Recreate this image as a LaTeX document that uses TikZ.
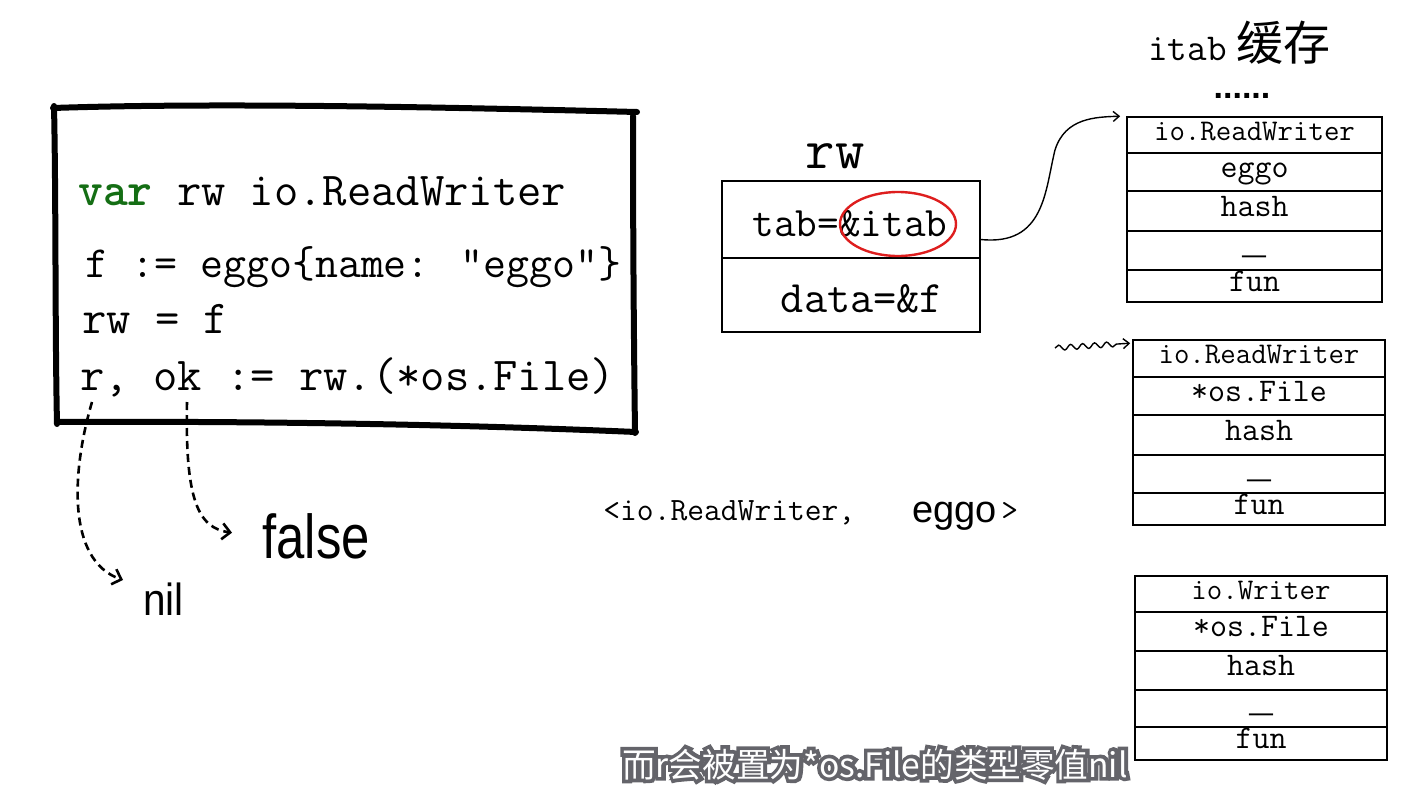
\documentclass[tikz,border=0pt]{standalone}
\usepackage{fontspec}
\setmainfont{Liberation Serif}
\newfontfamily\cjk{Noto Sans CJK SC}
\newfontfamily\cjkout{Noto Sans CJK SC}[FakeBold=22]
\newfontfamily\hand{Liberation Sans}
\newfontfamily\lmono{Liberation Mono}
\usetikzlibrary{decorations.pathmorphing,arrows.meta,shapes.geometric}
\definecolor{codegreen}{RGB}{20,110,20}
\definecolor{ringred}{RGB}{222,30,30}
\definecolor{subgray}{RGB}{100,100,106}
\tikzset{
  codeline/.style={anchor=base west, inner sep=0pt, font=\ttfamily\fontsize{23.6}{26}\selectfont},
  boxline/.style={line width=3pt, line cap=round, line join=round},
  cell/.style={draw, line width=0.8pt, inner sep=0pt, minimum width=127.5pt,
     text height=0.7em, text depth=0.2em, font=\ttfamily\fontsize{16.5}{19}\selectfont},
  cellhead/.style={cell, font=\ttfamily\fontsize{15}{18}\selectfont},
  cellgap/.style={cell, font=\lmono\fontsize{20}{22}\selectfont, text height=0.55em, text depth=0.25em},
  rwcell/.style={draw, line width=0.8pt, inner sep=0pt, minimum width=129pt},
  dasharrow/.style={line width=1.3pt, dash pattern=on 4pt off 2.5pt, -{Straight Barb[length=4pt,width=8pt]}},
  thinarrow/.style={line width=0.7pt, -{Straight Barb[length=3pt,width=5pt]}},
  subt/.style={inner sep=0pt, anchor=base, font=\fontsize{16.8}{20}\selectfont},
}
\begin{document}
\begin{tikzpicture}[x=0.5pt,y=-0.5pt]
\useasboundingbox (0,0) rectangle (1410,804);
\fill[white] (0,0) rectangle (1410,804);

% code box (hand drawn)
\draw[boxline] (53,108) .. controls (200,103) and (400,106) .. (637,112);
\draw[boxline] (633,116) .. controls (633,250) and (634,350) .. (635,433);
\draw[boxline] (54,106) .. controls (56,200) and (55,330) .. (57,424);
\draw[boxline] (57,422) .. controls (250,421) and (450,424) .. (636,432);

\node[codeline] (l1) at (78,205) {\textcolor{codegreen}{\bfseries var} rw io.ReadWriter};
\node[codeline, font=\ttfamily\fontsize{22.3}{26}\selectfont] (l2) at (85,277) {f := eggo\{name: "eggo"\}};
\node[codeline] (l3) at (82,333) {rw = f};
\node[codeline] (l4) at (80,390) {r, ok := rw.(*os.File)};

% results
\node[anchor=base west, inner sep=0pt, font=\hand\fontsize{31}{34}\selectfont, xscale=0.82] (false) at (262,558) {false};
\node[anchor=base west, inner sep=0pt, font=\hand\fontsize{22.5}{26}\selectfont, xscale=0.9] (nil) at (143,615) {nil};
\coordinate (rsrc) at (92,402);
\coordinate (oksrc) at (187,402);
\draw[dasharrow] (rsrc) .. controls (72,470) and (66,560) .. ([shift={(-20,-2)}]nil.north west);
\draw[dasharrow] (oksrc) .. controls (185,500) and (198,528) .. ([shift={(-30,20)}]false.north west);

% rw struct
\node[anchor=base, inner sep=0pt, font=\ttfamily\fontsize{28.5}{32}\selectfont] (rwlabel) at (835,168) {rw};
\node[rwcell, minimum height=38.5pt] (rwtop) at (851,219.5) {};
\node[rwcell, minimum height=37pt] (rwbot) at (851,295) {};
\node[anchor=base, inner sep=0pt, font=\ttfamily\fontsize{21}{24}\selectfont] (tabtxt) at (850,236) {tab=\&itab};
\node[anchor=base, inner sep=0pt, font=\ttfamily\fontsize{22.5}{26}\selectfont] (datatxt) at (862,312) {data=\&f};
\node[draw=ringred, line width=1.2pt, ellipse, minimum width=58pt, minimum height=32pt, inner sep=0pt] (ring) at (898,224) {};

% itab cache title
\node[anchor=base west, inner sep=0pt] (title) at (1148,60) {{\ttfamily\fontsize{19}{22}\selectfont itab}\hspace{5pt}{\cjk\fontsize{23.5}{26}\selectfont 缓存}};
\node[anchor=base, inner sep=0pt, font=\hand\bfseries\fontsize{17}{20}\selectfont] (dots) at (1242,98) {......};

% table 1
\node[cellhead, minimum height=18pt] (t1a) at (1254.5,135) {io.ReadWriter};
\node[cell, minimum height=19pt] (t1b) at (1254.5,172) {eggo};
\node[cell, minimum height=20pt] (t1c) at (1254.5,211) {hash};
\node[cellgap, minimum height=19.5pt] (t1d) at (1254.5,250.5) {\_};
\node[cell, minimum height=16pt] (t1e) at (1254.5,286) {fun};

% table 2
\node[cellhead, minimum width=126pt, minimum height=18.5pt] (t2a) at (1259,358.5) {io.ReadWriter};
\node[cell, minimum width=126pt, minimum height=19pt] (t2b) at (1259,396) {*os.File};
\node[cell, minimum width=126pt, minimum height=20pt] (t2c) at (1259,435) {hash};
\node[cellgap, minimum width=126pt, minimum height=19pt] (t2d) at (1259,474) {\_};
\node[cell, minimum width=126pt, minimum height=16pt] (t2e) at (1259,509) {fun};

% table 3
\node[cellhead, minimum width=126pt, minimum height=18pt] (t3a) at (1261,594) {io.Writer};
\node[cell, minimum width=126pt, minimum height=19.5pt] (t3b) at (1261,631.5) {*os.File};
\node[cell, minimum width=126pt, minimum height=19.5pt] (t3c) at (1261,670.5) {hash};
\node[cellgap, minimum width=126pt, minimum height=18.5pt] (t3d) at (1261,708.5) {\_};
\node[cell, minimum width=126pt, minimum height=16.5pt] (t3e) at (1261,743.5) {fun};

% connectors
\draw[thinarrow] ([yshift=-10pt]rwtop.east) .. controls (1045,246) and (1045,190) .. (1055,150)
   .. controls (1065,118) and (1095,117) .. ([xshift=-3pt]t1a.north west);
\coordinate (wstart) at (1055,348);
\draw[thinarrow, decorate, decoration={snake, amplitude=1.3pt, segment length=6pt, post length=4pt}]
   (wstart) -- ([shift={(-1pt,-2pt)}]t2a.north west);

% pair
\node[anchor=base west, inner sep=0pt, font=\ttfamily\fontsize{16.3}{19}\selectfont] (pair) at (603,520) {<io.ReadWriter,};
\node[anchor=base west, inner sep=0pt, font=\hand\fontsize{19}{22}\selectfont] (peggo) at (912,522) {eggo};
\node[anchor=base west, inner sep=0pt, font=\ttfamily\fontsize{16.3}{19}\selectfont] (pgt) at (1001,520) {>};

% subtitle (white text with grey outline)
\node[subt] (sub) at (875,777) {\rlap{\cjkout\color{subgray}而r会被置为*os.File的类型零值nil}{\cjk\color{white}而r会被置为*os.File的类型零值nil}};
\end{tikzpicture}
\end{document}
